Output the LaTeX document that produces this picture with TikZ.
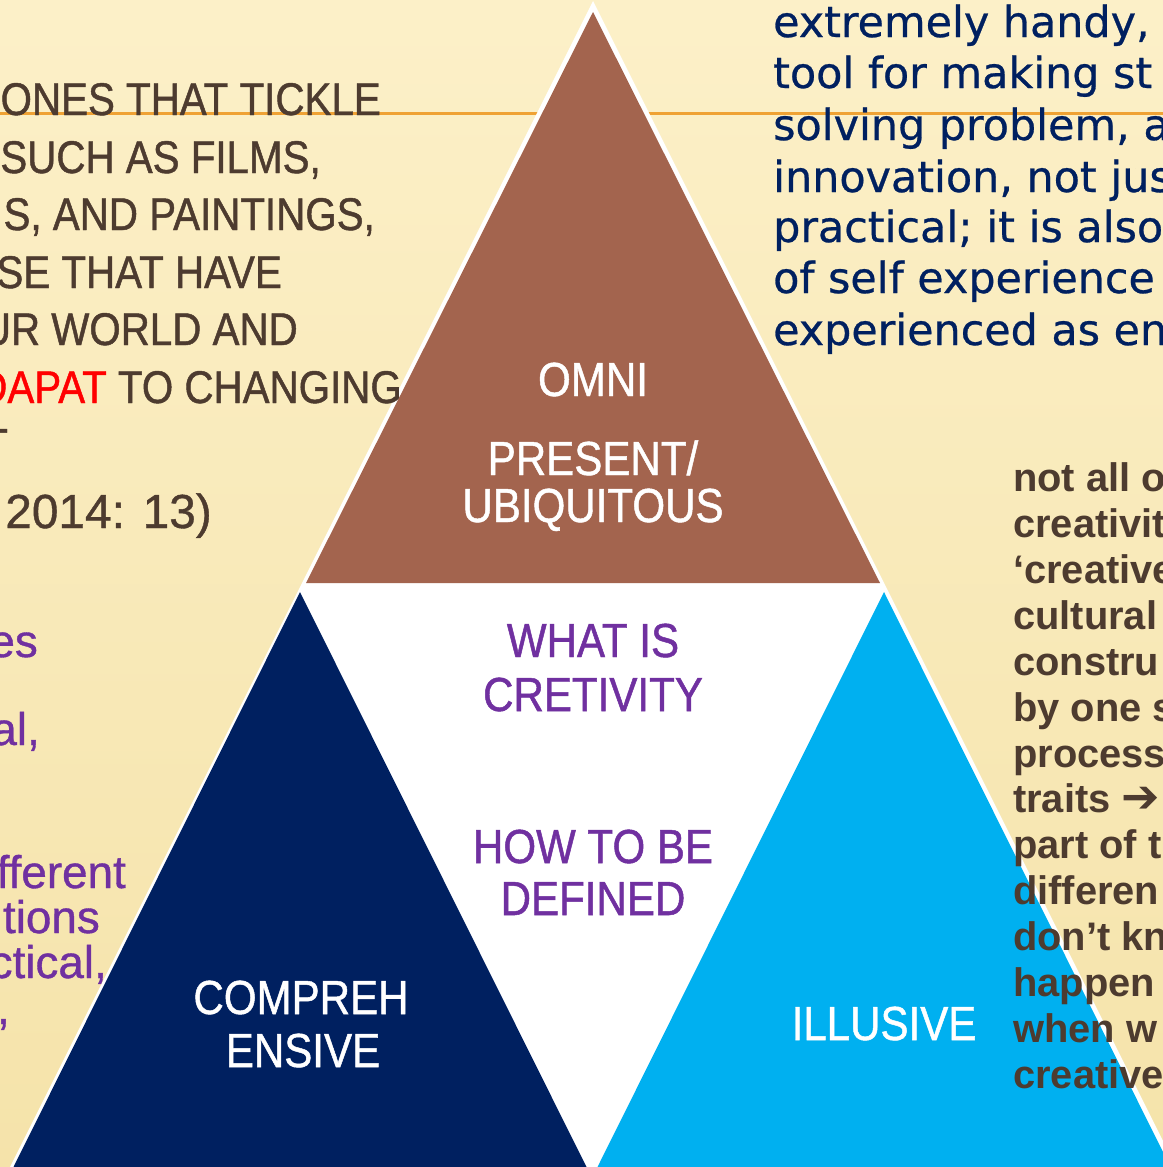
\documentclass[tikz,border=0pt]{standalone}
\usepackage{fontspec}
\setmainfont{Liberation Sans}
\newfontfamily\condfont[FakeStretch=0.88, FakeBold=1]{Liberation Sans}
\newfontfamily\mediumfont[FakeBold=0.8]{Liberation Sans}
\newfontfamily\widefont[FakeBold=0.6]{DejaVu Sans}
\newfontfamily\arrowfont{DejaVu Sans}
\usepackage{xcolor}

\definecolor{cream}{HTML}{FCF0C8}
\definecolor{creamdark}{HTML}{F5E3AA}
\definecolor{rulegold}{HTML}{EFA234}
\definecolor{textbrown}{HTML}{4D3B2F}
\definecolor{clay}{HTML}{A3644E}
\definecolor{navy}{HTML}{002060}
\definecolor{sky}{HTML}{00B0F0}
\definecolor{violet}{HTML}{7030A0}

\begin{document}
\begin{tikzpicture}[
    x=1bp, y=-1bp,
    lefttext/.style={anchor=base east, inner sep=0pt, text=textbrown, font=\condfont\fontsize{46}{50}\selectfont},
    purpletext/.style={anchor=base east, inner sep=0pt, text=violet, font=\mediumfont\fontsize{46}{50}\selectfont},
    navytext/.style={anchor=base west, inner sep=0pt, text=navy, font=\widefont\fontsize{43}{47}\selectfont},
    sidetext/.style={anchor=base west, inner sep=0pt, text=textbrown, font=\bfseries\fontsize{40}{44}\selectfont},
    centertext/.style={anchor=base, inner sep=0pt, font=\condfont\fontsize{48}{52}\selectfont},
]

% === Page frame and background ===
\useasboundingbox (0,0) rectangle (1163,1167);
\clip (0,0) rectangle (1163,1167);
\fill[top color=cream, bottom color=creamdark] (0,0) rectangle (1163,1167);

% === Title rule ===
\coordinate (ruleL) at (0,113);
\coordinate (ruleR) at (1163,113);
\draw[rulegold, line width=3bp] (ruleL) -- (ruleR);

% === Triangles ===
% white outline triangle behind the three coloured ones
\fill[white] (593,1) -- (8,1171) -- (1178,1171) -- cycle;
\fill[clay] (593,12) -- (306,583) -- (880,583) -- cycle;
\fill[navy] (300,592) -- (12,1170) -- (588,1170) -- cycle;
\fill[sky] (884,592) -- (596,1170) -- (1172,1170) -- cycle;

% === Triangle labels ===
\node[centertext, text=white] (omni) at (593,396) {OMNI};
\node[centertext, text=white] (present) at (593,475) {PRESENT/};
\node[centertext, text=white] (ubiq) at (593,522) {UBIQUITOUS};

\node[centertext, text=violet] (whatis) at (593,657) {WHAT IS};
\node[centertext, text=violet] (cret) at (593,711) {CRETIVITY};
\node[centertext, text=violet] (howto) at (593,863) {HOW TO BE};
\node[centertext, text=violet] (defined) at (593,915) {DEFINED};

\node[centertext, text=white] (compreh) at (301,1014) {COMPREH};
\node[centertext, text=white] (ensive) at (303,1067) {ENSIVE};

\node[centertext, text=white] (illusive) at (884,1040) {ILLUSIVE};

% === Left text (brown, cut at the page edge) ===
\node[lefttext] (l1) at (381,115) {ONES THAT TICKLE};
\node[lefttext] (l2) at (321,173) {SUCH AS FILMS,};
\node[lefttext] (l3) at (375,230) {S, AND PAINTINGS,};
\node[lefttext] (l4) at (282,288) {SE THAT HAVE};
\node[lefttext] (l5) at (298,345) {UR WORLD AND};
\node[lefttext] (l6) at (402,403) {\textcolor{red}{DAPAT} TO CHANGING};
\node[lefttext] (l7) at (9,443) {-};
\node[lefttext, font=\mediumfont\fontsize{48}{52}\selectfont] (l8) at (212,528) {2014: 13)};

% === Left text (purple) ===
\node[purpletext] (p1) at (38,657) {es};
\node[purpletext] (p2) at (40,745) {al,};
\node[purpletext] (p3) at (126,888) {fferent};
\node[purpletext] (p4) at (100,933) {tions};
\node[purpletext] (p5) at (107,978) {ctical,};
\node[purpletext] (p6) at (10,1024) {,};

% === Right text (navy) ===
\node[navytext] (r1) at (773,37) {extremely handy,};
\node[navytext] (r2) at (773,88) {tool for making st};
\node[navytext] (r3) at (773,140) {solving problem, a};
\node[navytext] (r4) at (773,192) {innovation, not jus};
\node[navytext] (r5) at (773,242) {practical; it is also};
\node[navytext] (r6) at (773,293) {of self experience};
\node[navytext] (r7) at (773,345) {experienced as en};

% === Right text (brown) ===
\node[sidetext] (s1) at (1013,491) {not all o};
\node[sidetext] (s2) at (1013,537) {creativit};
\node[sidetext] (s3) at (1013,583) {‘creative};
\node[sidetext] (s4) at (1013,629) {cultural};
\node[sidetext] (s5) at (1013,675) {constru};
\node[sidetext] (s6) at (1013,721) {by one s};
\node[sidetext] (s7) at (1013,767) {process};
\node[sidetext] (s8) at (1013,812) {traits {\arrowfont\bfseries\fontsize{46}{50}\selectfont ➔}};
\node[sidetext] (s9) at (1013,858) {part of t};
\node[sidetext] (s10) at (1013,904) {differen};
\node[sidetext] (s11) at (1013,950) {don’t kn};
\node[sidetext] (s12) at (1013,996) {happen};
\node[sidetext] (s13) at (1013,1042) {when w};
\node[sidetext] (s14) at (1013,1088) {creative};

\end{tikzpicture}
\end{document}
